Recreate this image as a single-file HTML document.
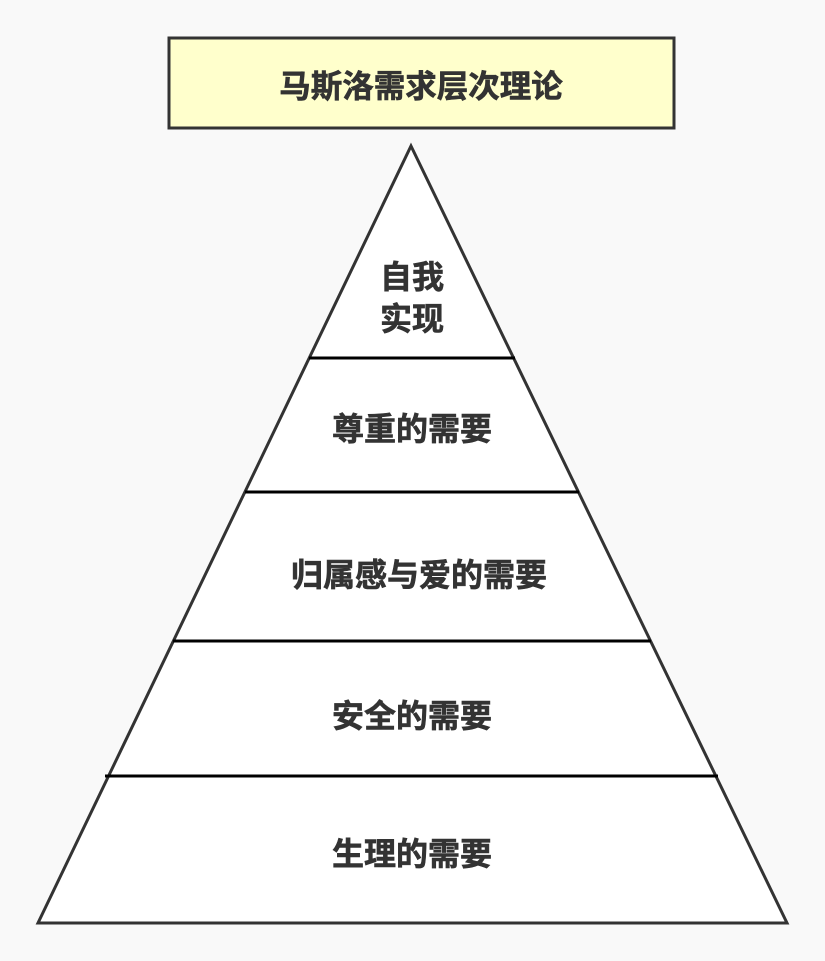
<!DOCTYPE html>
<html><head><meta charset="utf-8"><style>
body{margin:0;background:#f9f9f9;}
svg{display:block}
text{font-family:"Liberation Sans","Noto Sans CJK SC",sans-serif;font-weight:bold;fill:#333;stroke:#333;stroke-width:0.6;font-size:32px;text-anchor:middle}
</style></head><body>
<svg width="825" height="961" viewBox="0 0 825 961">
<rect x="0" y="0" width="825" height="961" fill="#f9f9f9"/>
<rect x="169" y="38" width="505" height="90" fill="#ffffcc" stroke="#333" stroke-width="3"/>
<text x="421" y="97" style="font-size:31.5px">马斯洛需求层次理论</text>
<polygon points="411,146 787,923 38,923" fill="#fff" stroke="#333" stroke-width="3"/>
<g stroke="#000" stroke-width="3">
<line x1="309" y1="358" x2="515" y2="358"/>
<line x1="245" y1="492" x2="579" y2="492"/>
<line x1="173" y1="641" x2="651" y2="641"/>
<line x1="105" y1="776" x2="718" y2="776"/>
</g>
<text x="412" y="288">自我</text>
<text x="412" y="330">实现</text>
<text x="412" y="440">尊重的需要</text>
<text x="419" y="586">归属感与爱的需要</text>
<text x="412" y="727">安全的需要</text>
<text x="412" y="865">生理的需要</text>
</svg>
</body></html>
